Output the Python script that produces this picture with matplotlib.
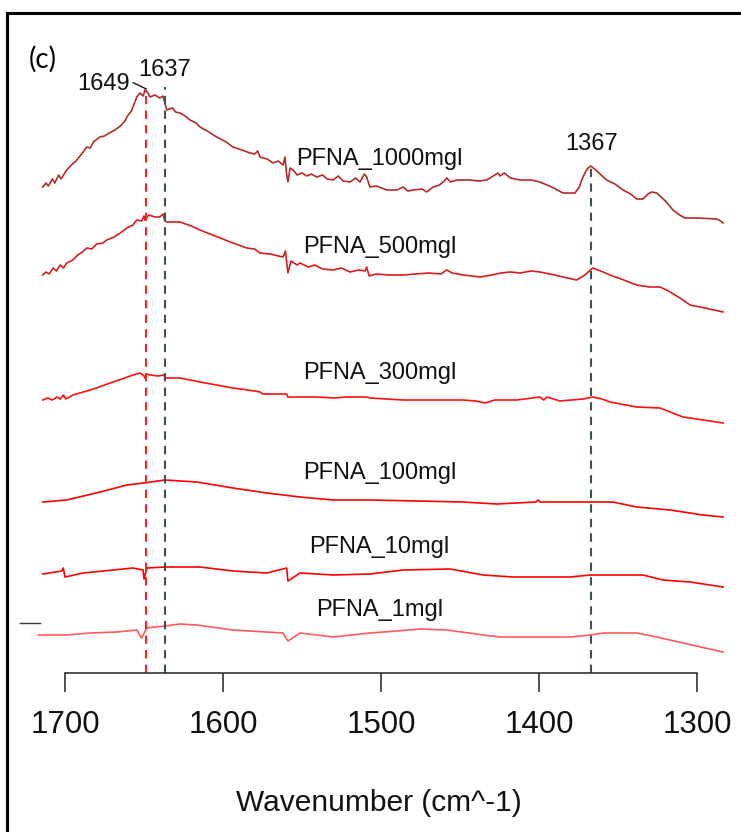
import matplotlib
matplotlib.use("Agg")
import matplotlib.pyplot as plt
from matplotlib.lines import Line2D

plt.rcParams["font.family"] = ["Liberation Sans", "DejaVu Sans"]

# spectra (wavenumber in cm^-1, stacked absorbance in a.u.)
wn_1000 = [1714.1, 1712.0, 1710.5, 1708.0, 1706.5, 1704.0, 1702.5, 1698.9, 1696.0, 1693.0,
           1690.5, 1688.0, 1686.3, 1684.0, 1682.0, 1678.0, 1675.0, 1672.0, 1668.4, 1665.0,
           1662.0, 1660.9, 1658.0, 1656.0, 1654.6, 1652.5, 1650.5, 1649.4, 1647.5, 1646.2,
           1643.0, 1640.0, 1638.0, 1636.8, 1635.6, 1632.0, 1630.0, 1627.2, 1624.0, 1620.9,
           1617.0, 1614.6, 1610.0, 1604.0, 1598.0, 1593.7, 1588.0, 1582.9, 1580.0, 1578.0,
           1576.6, 1572.0, 1568.4, 1565.0, 1562.0, 1560.8, 1559.8, 1558.9, 1557.5, 1555.7,
           1553.0, 1550.0, 1547.0, 1544.0, 1540.7, 1537.0, 1534.0, 1530.4, 1527.0, 1524.0,
           1519.6, 1516.0, 1513.3, 1510.5, 1509.1, 1507.0, 1503.0, 1496.4, 1490.0, 1486.0,
           1483.0, 1479.7, 1474.0, 1471.1, 1467.0, 1463.0, 1460.0, 1458.4, 1456.0, 1452.0,
           1443.7, 1438.0, 1433.1, 1429.0, 1426.0, 1424.7, 1422.0, 1418.0, 1412.0, 1405.0,
           1399.4, 1392.0, 1384.8, 1377.2, 1374.5, 1372.2, 1369.5, 1367.3, 1364.0, 1360.0,
           1357.2, 1352.0, 1346.8, 1342.0, 1338.2, 1334.2, 1331.0, 1328.7, 1325.5, 1320.0,
           1315.2, 1311.0, 1307.6, 1300.0, 1287.5, 1285.0, 1283.5]
ab_1000 = [4.86, 4.90, 4.87, 4.94, 4.90, 4.98, 4.94, 5.03, 5.08, 5.12,
           5.17, 5.22, 5.26, 5.25, 5.31, 5.36, 5.37, 5.40, 5.43, 5.47,
           5.52, 5.56, 5.62, 5.70, 5.76, 5.80, 5.77, 5.83, 5.80, 5.76,
           5.78, 5.75, 5.77, 5.70, 5.63, 5.65, 5.61, 5.60, 5.57, 5.53,
           5.50, 5.46, 5.42, 5.36, 5.31, 5.26, 5.23, 5.20, 5.19, 5.22,
           5.16, 5.14, 5.10, 5.12, 5.08, 5.16, 5.00, 4.91, 5.05, 5.03,
           4.98, 5.00, 4.97, 4.99, 4.96, 4.98, 4.94, 4.93, 4.97, 4.92,
           4.91, 4.95, 4.91, 4.99, 4.96, 4.86, 4.87, 4.83, 4.83, 4.86,
           4.82, 4.83, 4.84, 4.81, 4.86, 4.88, 4.92, 4.95, 4.91, 4.93,
           4.93, 4.92, 4.93, 4.97, 5.00, 4.97, 5.00, 4.95, 4.93, 4.93,
           4.91, 4.86, 4.80, 4.80, 4.86, 4.96, 5.04, 5.07, 5.03, 4.97,
           4.93, 4.89, 4.83, 4.79, 4.74, 4.74, 4.79, 4.81, 4.80, 4.72,
           4.63, 4.58, 4.55, 4.55, 4.54, 4.52, 4.50]

wn_500 = [1714.1, 1712.0, 1710.0, 1707.5, 1705.5, 1703.0, 1701.0, 1698.9, 1695.0, 1692.0,
          1689.0, 1686.3, 1683.0, 1680.0, 1676.0, 1673.6, 1669.0, 1665.0, 1660.9, 1657.0,
          1654.6, 1651.5, 1650.0, 1649.4, 1647.0, 1643.0, 1640.0, 1638.0, 1636.8, 1635.6,
          1627.2, 1620.0, 1614.6, 1605.0, 1593.7, 1585.0, 1580.0, 1576.6, 1570.0, 1565.0,
          1562.0, 1560.5, 1558.9, 1557.0, 1553.0, 1551.3, 1546.0, 1542.0, 1537.0, 1530.4,
          1525.0, 1519.6, 1514.0, 1510.0, 1509.1, 1507.5, 1503.0, 1495.0, 1486.1, 1478.0,
          1470.0, 1462.0, 1458.4, 1455.0, 1448.0, 1437.3, 1430.0, 1424.0, 1418.0, 1412.0,
          1405.0, 1399.4, 1390.0, 1384.8, 1376.2, 1371.0, 1366.0, 1361.0, 1355.1, 1348.0,
          1338.2, 1330.0, 1323.4, 1318.0, 1310.8, 1304.4, 1295.0, 1283.5]
ab_500 = [3.98, 4.01, 3.99, 4.05, 4.02, 4.08, 4.05, 4.10, 4.13, 4.18,
          4.21, 4.25, 4.24, 4.29, 4.30, 4.33, 4.36, 4.40, 4.45, 4.48,
          4.53, 4.52, 4.57, 4.53, 4.58, 4.56, 4.56, 4.59, 4.52, 4.51,
          4.51, 4.47, 4.43, 4.37, 4.30, 4.25, 4.24, 4.20, 4.19, 4.17,
          4.16, 4.22, 4.00, 4.12, 4.08, 4.10, 4.06, 4.08, 4.04, 4.03,
          4.05, 4.01, 4.03, 4.02, 4.06, 3.97, 3.99, 3.98, 3.98, 3.99,
          4.00, 3.99, 4.03, 4.00, 3.98, 3.96, 3.98, 4.00, 4.01, 4.00,
          4.02, 4.01, 3.98, 3.96, 3.93, 3.98, 4.05, 4.02, 3.98, 3.94,
          3.88, 3.86, 3.86, 3.82, 3.75, 3.68, 3.65, 3.61]

wn_300 = [1714.1, 1711.0, 1708.0, 1705.0, 1703.0, 1701.1, 1699.5, 1695.0, 1688.4, 1680.0,
          1671.5, 1664.0, 1657.0, 1652.5, 1650.0, 1649.4, 1648.5, 1646.2, 1641.0, 1637.5,
          1636.7, 1627.2, 1614.6, 1593.7, 1580.0, 1576.6, 1575.0, 1559.7, 1559.0, 1540.7,
          1530.0, 1522.0, 1509.1, 1507.0, 1486.1, 1460.0, 1448.1, 1440.0, 1434.2, 1428.0,
          1414.1, 1399.4, 1397.0, 1395.0, 1386.7, 1372.2, 1366.0, 1360.0, 1355.1, 1338.2,
          1323.4, 1308.9, 1296.2, 1283.5]
ab_300 = [2.73, 2.75, 2.73, 2.76, 2.74, 2.78, 2.74, 2.78, 2.81, 2.85,
          2.90, 2.94, 2.98, 3.00, 2.97, 2.95, 2.99, 2.98, 2.97, 2.98,
          2.95, 2.95, 2.91, 2.85, 2.82, 2.81, 2.79, 2.79, 2.76, 2.76,
          2.75, 2.76, 2.76, 2.75, 2.73, 2.73, 2.73, 2.72, 2.70, 2.73,
          2.73, 2.76, 2.73, 2.76, 2.72, 2.74, 2.76, 2.74, 2.71, 2.66,
          2.65, 2.56, 2.53, 2.50]

wn_100 = [1714.1, 1698.9, 1677.8, 1660.9, 1650.6, 1636.7, 1616.6, 1593.7, 1572.3, 1551.3,
          1530.4, 1507.0, 1448.1, 1426.8, 1402.0, 1400.5, 1399.4, 1353.2, 1338.2, 1317.1,
          1296.2, 1283.5]
ab_100 = [1.71, 1.73, 1.81, 1.88, 1.90, 1.93, 1.91, 1.85, 1.80, 1.76,
          1.73, 1.73, 1.71, 1.69, 1.71, 1.73, 1.71, 1.71, 1.66, 1.63,
          1.58, 1.56]

wn_10 = [1714.1, 1702.1, 1701.1, 1700.0, 1688.4, 1657.0, 1650.6, 1650.0, 1648.1, 1636.7,
         1614.6, 1593.7, 1572.3, 1559.7, 1558.9, 1551.3, 1530.4, 1507.0, 1486.1, 1456.3,
         1435.4, 1416.5, 1380.4, 1367.7, 1334.2, 1321.5, 1304.4, 1283.5]
ab_10 = [0.99, 1.02, 1.05, 0.96, 1.00, 1.05, 1.03, 0.94, 1.05, 1.06,
         1.06, 1.02, 1.00, 1.05, 0.92, 1.00, 0.98, 0.99, 1.03, 1.04,
         0.98, 0.96, 0.96, 0.98, 0.98, 0.93, 0.91, 0.86]

wn_1 = [1716.9, 1698.9, 1684.2, 1667.3, 1654.6, 1651.5, 1648.3, 1636.7, 1627.2, 1616.6,
        1593.7, 1562.0, 1558.9, 1551.3, 1530.4, 1507.0, 1490.1, 1475.3, 1458.4, 1435.4,
        1424.7, 1380.4, 1367.7, 1359.5, 1338.2, 1325.5, 1308.9, 1283.5]
ab_1 = [0.38, 0.38, 0.40, 0.41, 0.43, 0.35, 0.45, 0.47, 0.49, 0.48,
        0.43, 0.40, 0.32, 0.40, 0.36, 0.40, 0.42, 0.44, 0.43, 0.38,
        0.36, 0.36, 0.38, 0.40, 0.40, 0.36, 0.30, 0.21]

series_names = ["PFNA_1000mgl", "PFNA_500mgl", "PFNA_300mgl",
                "PFNA_100mgl", "PFNA_10mgl", "PFNA_1mgl"]
series_wn = [wn_1000, wn_500, wn_300, wn_100, wn_10, wn_1]
series_ab = [ab_1000, ab_500, ab_300, ab_100, ab_10, ab_1]
label_y = [5.14, 4.26, 3.00, 2.00, 1.26, 0.63]
colors = ["#B52A2A", "#D41E1E", "#FF1010", "#FF0000", "#FF0000", "#FF5A5A"]

# marked peaks
peak_wn = [1649, 1637, 1367]
peak_top = [5.83, 5.86, 5.08]
peak_colors = ["#FF2020", "#3E5252", "#3E5252"]

fig = plt.figure(figsize=(7.41, 8.32), dpi=100)
ax = fig.add_axes([0, 0.1911, 1, 0.8089])
ax.set_xlim(1741.14, 1272.15)
ax.set_ylim(0, 6.73)

for wn, ab, c, name, ly in zip(series_wn, series_ab, colors, series_names, label_y):
    ax.plot(wn, ab, color=c, lw=1.2)
    ax.text(1501, ly, name, ha="center", va="center", fontsize=17, color="#111111")

ax.vlines(peak_wn, 0, peak_top, colors=peak_colors, lw=1.5,
          linestyles=[(0, (4, 3))] * 3)

ax.annotate("1649", xy=(1648.5, 5.84), xytext=(1675.3, 5.895),
            ha="center", va="center", fontsize=17, color="#111111",
            arrowprops=dict(arrowstyle="-", color="#111111", lw=1.0,
                            shrinkA=0, shrinkB=0, relpos=(1.0, 0.6)))
ax.text(1636.7, 6.03, "1637", ha="center", va="center", fontsize=17, color="#111111")
ax.text(1366.8, 5.295, "1367", ha="center", va="center", fontsize=17, color="#111111")

for side in ["left", "right", "top"]:
    ax.spines[side].set_visible(False)
ax.spines["bottom"].set_bounds(1300, 1700)
ax.spines["bottom"].set_linewidth(1.1)
ax.spines["bottom"].set_color("#222222")
ax.set_yticks([])
ax.set_xticks([1700, 1600, 1500, 1400, 1300])
ax.tick_params(axis="x", direction="out", length=13.7, width=1.1, color="#222222",
               pad=13, labelsize=22.5, labelcolor="#111111")
ax.patch.set_alpha(0)

fig.text(378.5 / 741, 1 - 803 / 832, "Wavenumber (cm^-1)", ha="center", va="center",
         fontsize=21.5, color="#111111")
fig.text(43 / 741, 1 - 59 / 832, "(c)", ha="center", va="center",
         fontsize=20, color="black", family=["Lato", "DejaVu Sans"])

# outer frame and the stray tick on the left
fig.add_artist(Line2D([7 / 741, 7 / 741], [0, 1 - 13 / 832], color="black", lw=2.2))
fig.add_artist(Line2D([7 / 741, 1], [1 - 13 / 832, 1 - 13 / 832], color="black", lw=2.2))
fig.add_artist(Line2D([20 / 741, 40 / 741], [1 - 623 / 832, 1 - 623 / 832],
                      color="#333333", lw=1.0))

fig.savefig("out.png", dpi=100)
